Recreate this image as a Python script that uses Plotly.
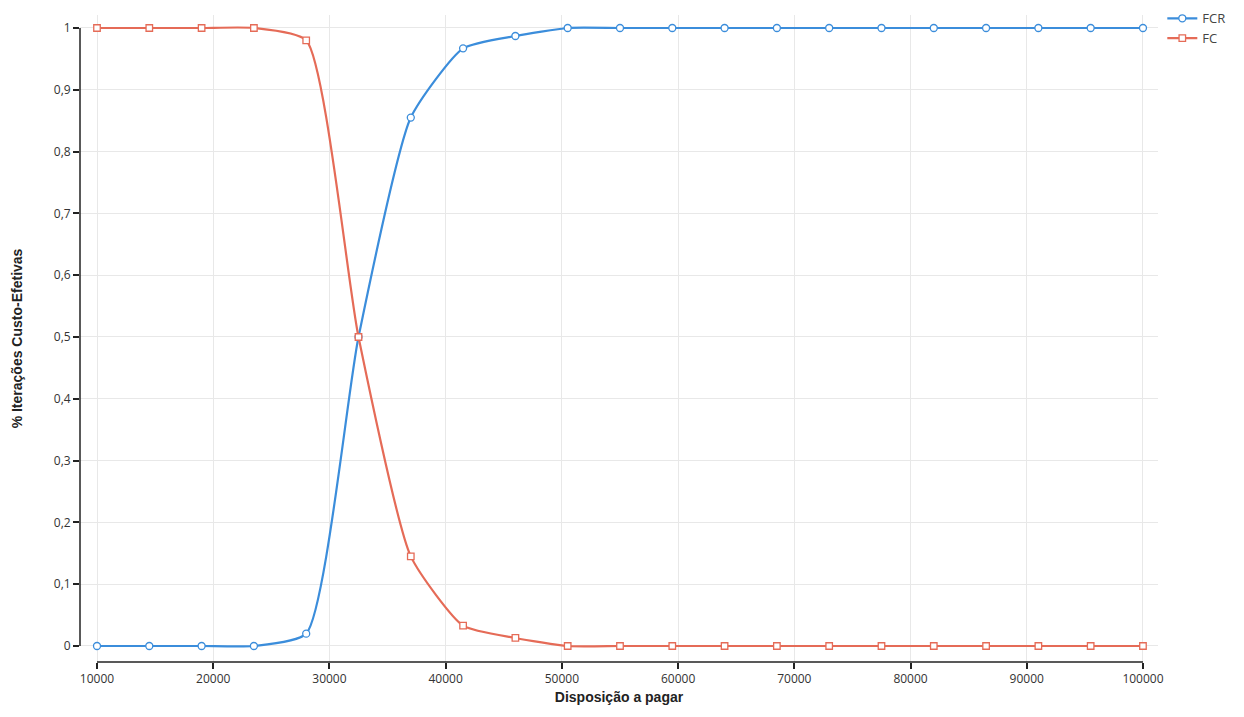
import plotly.graph_objects as go

wtp = [10000, 14500, 19000, 23500, 28000, 32500, 37000, 41500, 46000, 50500, 55000,
       59500, 64000, 68500, 73000, 77500, 82000, 86500, 91000, 95500, 100000]
fcr = [0, 0, 0, 0, 0.02, 0.5, 0.855, 0.967, 0.987, 1, 1,
       1, 1, 1, 1, 1, 1, 1, 1, 1, 1]
fc = [1, 1, 1, 1, 0.98, 0.5, 0.145, 0.033, 0.013, 0, 0,
      0, 0, 0, 0, 0, 0, 0, 0, 0, 0]

x_ticks = [10000, 20000, 30000, 40000, 50000, 60000, 70000, 80000, 90000, 100000]
x_ticktext = ["10000", "20000", "30000", "40000", "50000", "60000", "70000", "80000", "90000", "100000"]
y_ticks = [0, 0.1, 0.2, 0.3, 0.4, 0.5, 0.6, 0.7, 0.8, 0.9, 1]
y_ticktext = ["0", "0,1", "0,2", "0,3", "0,4", "0,5", "0,6", "0,7", "0,8", "0,9", "1"]

BLUE = "#3b8ddb"
RED = "#e56b57"
FONT = "Open Sans"
TFONT = "Liberation Sans"

fig = go.Figure()
fig.add_trace(go.Scatter(
    x=wtp, y=fcr, name="FCR", mode="lines+markers",
    line=dict(color=BLUE, width=2.2, shape="spline", smoothing=0.55),
    marker=dict(symbol="circle", size=7, color="white", line=dict(color=BLUE, width=1.3)),
))
fig.add_trace(go.Scatter(
    x=wtp, y=fc, name="FC", mode="lines+markers",
    line=dict(color=RED, width=2.2, shape="spline", smoothing=0.55),
    marker=dict(symbol="square", size=6.5, color="white", line=dict(color=RED, width=1.3)),
))

# axis lines spanning only the data domain (offset d3-style axes)
fig.add_shape(type="line", xref="x", yref="paper", x0=wtp[0], x1=wtp[-1], y0=0, y1=0,
              line=dict(color="#222", width=1.5))
fig.add_shape(type="line", xref="paper", yref="y", x0=0, x1=0, y0=0, y1=1,
              line=dict(color="#222", width=1.5))

fig.update_layout(
    width=1244, height=717,
    margin=dict(l=72, r=94, t=7, b=63, autoexpand=False),
    paper_bgcolor="white", plot_bgcolor="white",
    font=dict(family=FONT, size=12, color="#333"),
    showlegend=True,
    legend=dict(x=1.004, y=1.018, xanchor="left", yanchor="top",
                font=dict(family=FONT, size=13, color="#444"),
                bgcolor="rgba(0,0,0,0)", tracegroupgap=4, itemwidth=30),
    xaxis=dict(
        range=[8537, 101293], tickvals=x_ticks, ticktext=x_ticktext,
        showgrid=True, gridcolor="#e8e8e8", gridwidth=1, zeroline=False,
        showline=False, ticks="outside", ticklen=6, tickcolor="#222", tickwidth=1.5,
        tickfont=dict(size=12, color="#333"), automargin=False,
        title=dict(text="<b>Disposição a pagar</b>", font=dict(family=TFONT, size=14, color="#222"), standoff=5),
    ),
    yaxis=dict(
        range=[-0.0259, 1.021], tickvals=y_ticks, ticktext=y_ticktext,
        showgrid=True, gridcolor="#e8e8e8", gridwidth=1, zeroline=False,
        showline=False, ticks="outside", ticklen=6, tickcolor="#222", tickwidth=1.5,
        tickfont=dict(size=12, color="#333"), automargin=False,
        title=dict(text="<b>% Iterações Custo-Efetivas</b>", font=dict(family=TFONT, size=14, color="#222"), standoff=27),
    ),
)

fig.write_html("out.html")
